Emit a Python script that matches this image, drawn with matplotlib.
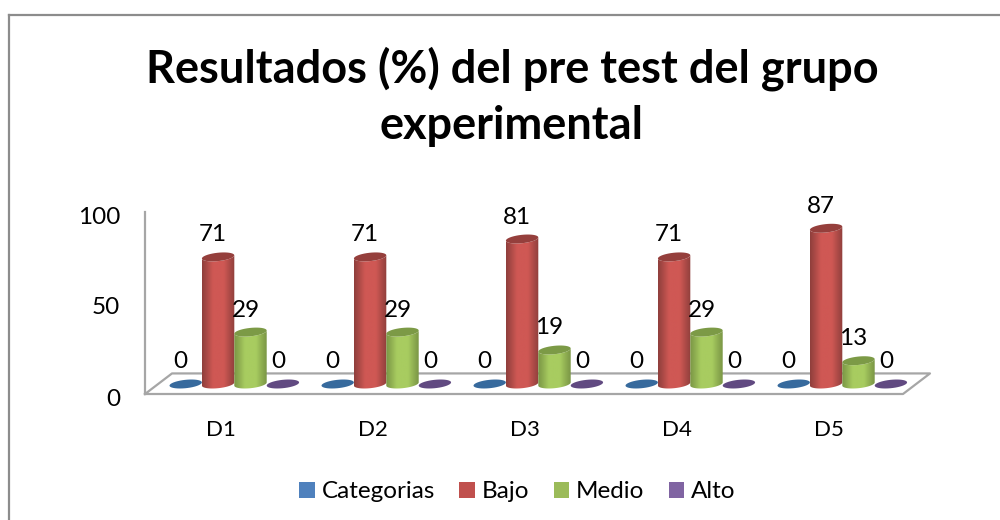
import matplotlib
matplotlib.use("Agg")
import matplotlib.pyplot as plt
import numpy as np
from matplotlib.lines import Line2D
from matplotlib.patches import Patch, PathPatch
from matplotlib.path import Path
from matplotlib.colors import LinearSegmentedColormap
from matplotlib.transforms import ScaledTranslation

plt.rcParams['font.family'] = ['Lato', 'DejaVu Sans']

W, H = 1000, 520

title = "Resultados (%) del pre test del grupo\nexperimental"
categories = ["D1", "D2", "D3", "D4", "D5"]
series_names = ["Categorias", "Bajo", "Medio", "Alto"]
categorias = [0, 0, 0, 0, 0]
bajo = [71, 71, 81, 71, 87]
medio = [29, 29, 19, 29, 13]
alto = [0, 0, 0, 0, 0]
y_ticks = [0, 50, 100]

legend_colors = ["#4f81bd", "#c0504d", "#9bbb59", "#8064a2"]
edge_colors = ["#376a9d", "#8f3f3c", "#7a9645", "#614a81"]
mid_colors = ["#3f75ad", "#cf5854", "#a8cc60", "#6d5490"]
top_colors = ["#376a9d", "#953f3c", "#7c9a46", "#614a81"]

PX_X = 152.0   # pixels per category
PX_Y = 1.79    # pixels per percent
BAR_W = 32.4 / PX_X
ELL_B = 4.2 / PX_Y
ELL_TILT = 1.6 / PX_Y


def rect_px(x0, y0, x1, y1):
    """ pixel box (y from the top) -> figure fraction """
    return [x0 / W, 1 - y1 / H, (x1 - x0) / W, (y1 - y0) / H]


def ellipse_points(cx, cy, start, stop, n=40):
    t = np.linspace(start, stop, n)
    a = BAR_W / 2
    return cx + a * np.cos(t), cy + ELL_B * np.sin(t) + ELL_TILT * np.cos(t)


def draw_cylinder(ax, cx, value, i_series):
    a = BAR_W / 2
    if value > 0:
        # body: front half of the base, then back up along the top
        xb, yb = ellipse_points(cx, 0, np.pi, 2 * np.pi)
        xt, yt = ellipse_points(cx, value, 0, -np.pi)
        verts = np.column_stack([np.r_[xb, xt], np.r_[yb, yt]])
        body = PathPatch(Path(np.vstack([verts, verts[0]]), closed=True), fc="none", ec="none")
        ax.add_patch(body)
        cmap = LinearSegmentedColormap.from_list(
            "c", [edge_colors[i_series], mid_colors[i_series], mid_colors[i_series], edge_colors[i_series]])
        grad = np.linspace(0, 1, 64).reshape(1, -1)
        im = ax.imshow(grad, cmap=cmap, aspect="auto", zorder=3,
                       extent=[cx - a, cx + a, -ELL_B * 2, value + ELL_B * 2])
        im.set_clip_path(body)
        xe, ye = ellipse_points(cx, value, 0, 2 * np.pi)
        ax.fill(xe, ye, color=top_colors[i_series], lw=0, zorder=4)
    else:
        xe, ye = ellipse_points(cx, 0, 0, 2 * np.pi)
        ax.fill(xe, ye, color=top_colors[i_series], lw=0, zorder=2)


fig = plt.figure(figsize=(W / 100, H / 100), dpi=100, facecolor="white")

# outer frame of the chart, only top and left are in the picture
frame = "#8c8c8c"
fig.add_artist(Line2D([9 / W, 9 / W], [0, 1 - 15 / H], color=frame, lw=1.6))
fig.add_artist(Line2D([9 / W, 1], [1 - 15 / H, 1 - 15 / H], color=frame, lw=1.6))

fig.text(512 / W, 1 - 97 / H, title, ha="center", va="center", fontsize=32.5,
         fontweight="bold", color="black", linespacing=1.42)

# wall and floor
ax_wall = fig.add_axes(rect_px(145, 212, 930, 394))
ax_wall.set_ylim(0, 100)
ax_wall.set_xticks([])
ax_wall.set_yticks(y_ticks)
ax_wall.tick_params(axis="y", length=0, pad=18, labelsize=17.5)
shift = ScaledTranslation(0, -3 / 100, fig.dpi_scale_trans)
for label in ax_wall.get_yticklabels():
    label.set_transform(label.get_transform() + shift)
ax_wall.patch.set_visible(False)
for name in ["top", "right", "bottom"]:
    ax_wall.spines[name].set_visible(False)
grey = "#a6a6a6"
ax_wall.spines["left"].set_color(grey)
ax_wall.spines["left"].set_linewidth(1.6)
ax_wall.plot([0, 0.9656, 1, 0.0344, 0], [0, 0, 0.113, 0.113, 0], color=grey, lw=1.6,
             transform=ax_wall.transAxes, clip_on=False)

# cylinders
ax = fig.add_axes(rect_px(145, 212, 930, 394))
ax.patch.set_visible(False)
ax.axis("off")
x_pos = np.arange(len(categories))
all_series = [categorias, bajo, medio, alto]
for i, values in enumerate(all_series):
    offset = (i - 1.5) * BAR_W
    for x, v in zip(x_pos, values):
        draw_cylinder(ax, x + offset, v, i)
        ax.annotate(str(v), (x + offset, v), xytext=(-5, 22), textcoords="offset pixels",
                    ha="center", va="center", fontsize=17.5, color="black", zorder=6)

for x, name in zip(x_pos, categories):
    ax.annotate(name, (x, 0), xytext=(-13, -46), textcoords="offset pixels",
                ha="center", va="center", fontsize=16, color="black", annotation_clip=False)

ax.set_xlim((145 - 234.3) / PX_X, (930 - 234.3) / PX_X)
ax.set_ylim(-10 / PX_Y, 172 / PX_Y)

handles = [Patch(facecolor=c, edgecolor="none", lw=0, label=n) for c, n in zip(legend_colors, series_names)]
fig.legend(handles=handles, loc="center", bbox_to_anchor=(517.5 / W, 1 - 492 / H), ncol=4,
           frameon=False, fontsize=17.5, handlelength=0.62, handleheight=0.62,
           handletextpad=0.3, columnspacing=1.0)

fig.savefig("out.png", dpi=100)
